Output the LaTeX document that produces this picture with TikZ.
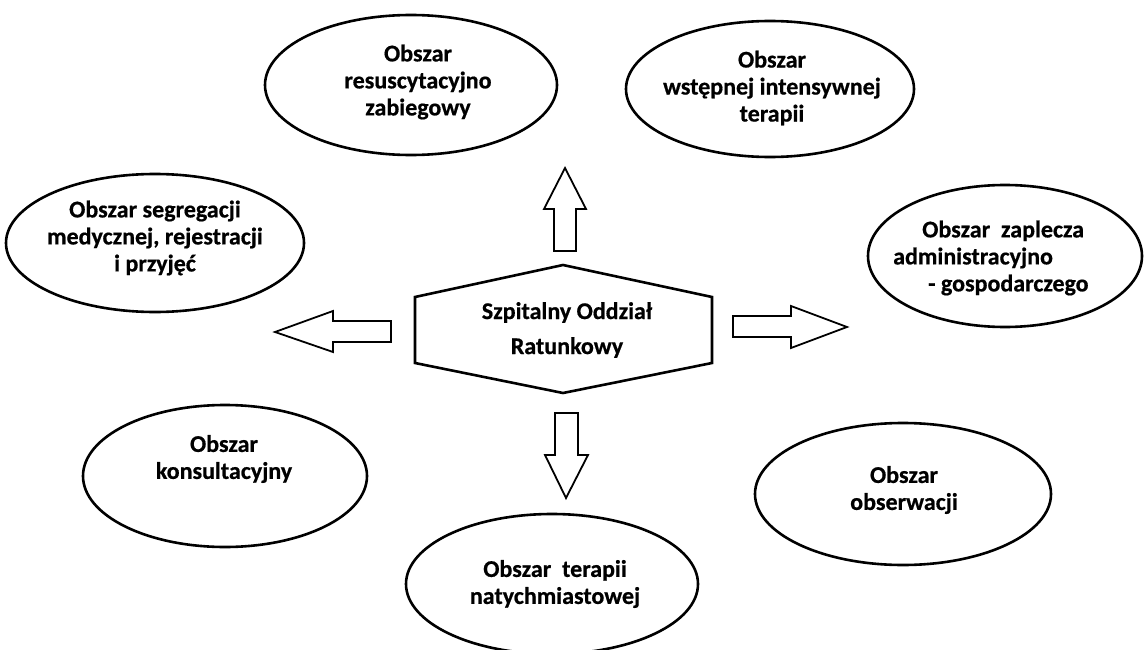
\documentclass[tikz,border=0pt]{standalone}
\usepackage{fontspec}
\setmainfont{Carlito}[BoldFeatures={FakeBold=0.6}]
\usetikzlibrary{shapes.geometric}
\tikzset{
  area/.style={ellipse, draw=black, line width=2.6pt, fill=white, inner sep=0pt},
  lbl/.style={font=\bfseries\fontsize{24}{27}\selectfont, align=center, inner sep=0pt},
  blockarrow/.style={draw=black, line width=1.8pt, fill=white, line join=miter},
  hexline/.style={draw=black, line width=2.6pt, fill=white, line join=miter}
}
\begin{document}
\begin{tikzpicture}[x=1pt,y=-1pt]
\useasboundingbox (0,0) rectangle (1146,650);
\begin{scope}
\clip (0,0) rectangle (1146,650);
% ellipses
\node[area, minimum width=292pt, minimum height=140pt] (e1) at (411,85) {};
\node[area, minimum width=288pt, minimum height=136pt] (e2) at (770,89) {};
\node[area, minimum width=298pt, minimum height=138pt] (e3) at (155,243) {};
\node[area, minimum width=274pt, minimum height=142pt] (e4) at (1005,256) {};
\node[area, minimum width=284pt, minimum height=142pt] (e5) at (225,476) {};
\node[area, minimum width=296pt, minimum height=142pt] (e6) at (903,494) {};
\node[area, minimum width=292pt, minimum height=140pt] (e7) at (552,584) {};
\end{scope}
% labels
\node[lbl] (t1) at (418,82) {Obszar\\resuscytacyjno\\zabiegowy};
\node[lbl] (t2) at (772,88) {Obszar\\wstępnej intensywnej\\terapii};
\node[lbl] (t3) at (155,238) {Obszar segregacji\\medycznej, rejestracji\\i przyjęć};
\node[lbl, align=left, anchor=west] (t4) at (893,258) {\hspace*{29pt}Obszar\ \ zaplecza\\administracyjno\\\hspace*{35pt}- gospodarczego};
\node[lbl] (t5) at (224,459) {Obszar\\konsultacyjny};
\node[lbl] (t6) at (904,490) {Obszar\\obserwacji};
\node[lbl] (t7) at (555,584) {Obszar\ \ terapii\\natychmiastowej};
% central hexagon
\coordinate (hN) at (563,265);
\coordinate (hS) at (563,393);
\draw[hexline] (415,297) -- (hN) -- (712,297) -- (712,363) -- (hS) -- (415,363) -- cycle;
\node[lbl, font=\bfseries\fontsize{24}{35}\selectfont] (hex) at (567,330) {Szpitalny Oddział\\Ratunkowy};
% block arrows
\draw[blockarrow] (554,251) -- (554,209) -- (544,209) -- (565,168) -- (586,209) -- (576,209) -- (576,251) -- cycle;
\draw[blockarrow] (555,413) -- (578,413) -- (578,455) -- (588,455) -- (566,498) -- (545,455) -- (555,455) -- cycle;
\draw[blockarrow] (391,321) -- (333,321) -- (333,311) -- (275,332) -- (333,352) -- (333,342) -- (391,342) -- cycle;
\draw[blockarrow] (733,316) -- (791,316) -- (791,306) -- (847,327) -- (791,348) -- (791,337) -- (733,337) -- cycle;
\end{tikzpicture}
\end{document}
